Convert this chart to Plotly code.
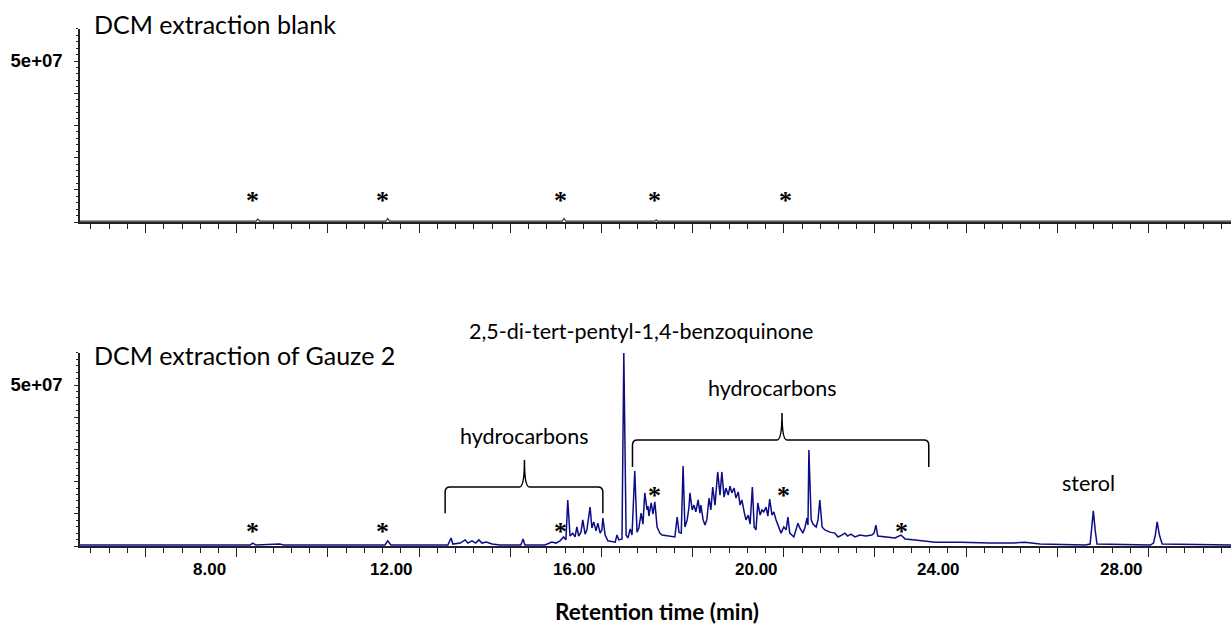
import plotly.graph_objects as go

# ---------------- data ----------------
# Bottom chromatogram: DCM extraction of Gauze 2 (retention time in min, intensity in 1e6 counts)
gauze_time = [5.16, 8.89, 8.95, 9.02, 9.54, 9.63, 11.85, 11.91, 11.98, 13.23, 13.30, 13.34, 13.50, 13.61,
              13.67, 13.76, 13.84, 13.91, 13.98, 14.07, 14.20, 14.37, 14.83, 14.88, 14.92, 15.36, 15.51,
              15.60, 15.69, 15.77, 15.82, 15.86, 15.91, 15.97, 16.02, 16.06, 16.10, 16.15, 16.19, 16.24,
              16.28, 16.35, 16.39, 16.43, 16.48, 16.52, 16.57, 16.61, 16.63, 16.68, 16.74, 16.90, 16.94,
              16.98, 17.05, 17.09, 17.14, 17.18, 17.23, 17.27, 17.33, 17.38, 17.42, 17.47, 17.51, 17.55,
              17.60, 17.62, 17.64, 17.69, 17.73, 17.77, 17.82, 17.88, 17.93, 18.06, 18.21, 18.26, 18.30,
              18.35, 18.39, 18.43, 18.48, 18.52, 18.54, 18.59, 18.63, 18.67, 18.70, 18.72, 18.76, 18.78,
              18.83, 18.87, 18.91, 18.96, 19.00, 19.04, 19.09, 19.15, 19.20, 19.24, 19.29, 19.33, 19.38,
              19.42, 19.46, 19.51, 19.55, 19.60, 19.64, 19.68, 19.73, 19.77, 19.82, 19.86, 19.91, 19.95,
              19.99, 20.03, 20.08, 20.12, 20.16, 20.21, 20.25, 20.29, 20.34, 20.38, 20.43, 20.49, 20.54,
              20.60, 20.65, 20.69, 20.73, 20.82, 20.86, 20.91, 20.95, 21.02, 21.06, 21.11, 21.13, 21.15,
              21.20, 21.24, 21.31, 21.35, 21.39, 21.44, 21.50, 21.61, 21.72, 21.79, 21.87, 21.94, 22.00,
              22.07, 22.16, 22.27, 22.40, 22.53, 22.58, 22.62, 22.66, 22.82, 23.04, 23.17, 23.26, 23.48,
              23.92, 24.47, 25.12, 25.63, 25.89, 26.22, 27.21, 27.32, 27.36, 27.39, 27.43, 27.47, 28.64,
              28.71, 28.75, 28.79, 28.84, 28.90, 30.41]
gauze_intensity_millions = [0.3, 0.3, 0.9, 0.3, 0.6, 0.3, 0.3, 1.6, 0.3, 0.3, 2.5, 0.6, 0.9, 1.9,
                            0.9, 1.6, 0.9, 1.9, 0.9, 1.2, 0.6, 0.3, 0.3, 2.2, 0.3, 0.3, 1.2,
                            0.9, 1.6, 2.8, 1.9, 14.3, 3.1, 4.0, 2.8, 5.9, 3.1, 4.3, 8.1, 3.7,
                            5.0, 12.1, 5.6, 7.5, 4.7, 7.1, 4.0, 5.0, 8.7, 3.4, 1.6, 1.2, 3.4,
                            1.9, 2.2, 59.9, 3.4, 2.5, 5.3, 3.4, 23.3, 4.3, 5.6, 10.2, 6.8, 16.5,
                            11.2, 12.4, 9.3, 13.4, 9.9, 13.7, 5.9, 4.0, 3.4, 3.1, 2.8, 9.0, 4.3,
                            4.0, 24.8, 5.9, 8.1, 12.1, 16.5, 11.2, 12.7, 10.6, 13.4, 14.3, 10.2, 12.7,
                            8.1, 6.5, 8.1, 14.9, 11.2, 18.3, 12.7, 23.0, 15.8, 23.0, 15.2, 18.0, 15.8,
                            18.6, 16.5, 18.0, 14.9, 16.8, 12.7, 14.3, 10.6, 8.1, 9.6, 6.8, 18.3, 5.9,
                            5.0, 13.4, 9.6, 11.2, 10.6, 12.1, 9.3, 14.6, 9.6, 10.6, 8.1, 5.6, 4.0,
                            5.9, 5.0, 9.0, 4.0, 2.8, 5.0, 7.1, 5.6, 4.0, 5.6, 8.7, 6.5, 29.8,
                            8.1, 6.8, 5.9, 8.1, 14.3, 5.9, 5.0, 4.3, 4.0, 2.8, 3.4, 4.0, 3.1,
                            3.7, 2.8, 3.4, 3.1, 3.4, 4.0, 6.5, 3.1, 2.8, 2.5, 3.4, 2.2, 1.9,
                            1.2, 1.2, 0.9, 0.9, 1.2, 0.6, 0.3, 0.6, 6.5, 10.9, 5.0, 0.6, 0.3,
                            0.9, 3.4, 7.5, 3.4, 0.6, 0.3]

# Top chromatogram: DCM extraction blank
blank_time = [5.16, 9.02, 9.06, 9.10, 11.87, 11.91, 11.95, 15.74, 15.78, 15.82, 17.77, 17.80, 17.83,
              20.66, 20.69, 20.72, 30.41]
blank_intensity_millions = [0.3, 0.3, 0.9, 0.3, 0.3, 1.1, 0.3, 0.3, 1.1, 0.3, 0.3, 0.6, 0.3,
                            0.3, 0.5, 0.3, 0.3]

# asterisk markers (retention time, height in 1e6 counts)
blank_star_time = [8.95, 11.80, 15.69, 17.77, 20.63]
blank_star_height = [7.8, 7.8, 7.8, 7.8, 7.8]
gauze_star_time = [8.95, 11.80, 15.69, 17.77, 20.60, 23.19]
gauze_star_height = [5.9, 5.9, 5.9, 16.8, 16.8, 5.6]

# peak labels (text, retention time, height in 1e6 counts)
label_text = ["hydrocarbons", "hydrocarbons", "sterol"]
label_time = [14.90, 20.34, 27.29]
label_height = [34.2, 49.1, 19.6]
top_label_text = "2,5-di-tert-pentyl-1,4-benzoquinone"
top_label_time = 17.47

# braces: (start, end, centre) in min; (foot, bar, tip) heights in 1e6 counts
brace_start = [13.17, 17.28]
brace_end = [16.63, 23.78]
brace_centre = [14.91, 20.56]
brace_foot = [10.2, 24.5]
brace_bar = [18.3, 32.9]
brace_tip = [26.7, 41.3]

# axes
x_range = [5.16, 30.41]
y_range_millions = [0, 60]
x_major_ticks = [6.6, 8.6, 10.6, 12.6, 14.6, 16.6, 18.6, 20.6, 22.6, 24.6, 26.6, 28.6]
tick_label_values = [8, 12, 16, 20, 24, 28]
tick_labels = ["8.00", "12.00", "16.00", "20.00", "24.00", "28.00"]
y_tick_values_millions = [0, 10, 20, 30, 40, 50]
y_tick_text = ["", "", "", "", "", "5e+07"]
panel_titles = ["DCM extraction blank", "DCM extraction of Gauze 2"]
x_title = "Retention time (min)"

M = 1e6
NAVY = "#0c0c86"
AXIS = "#222222"
H = 624.0


def paper_y(px):
    return 1 - px / H


fig = go.Figure()
fig.add_trace(go.Scatter(x=blank_time, y=[v * M for v in blank_intensity_millions],
                         mode="lines", line=dict(color="#333333", width=1.2),
                         xaxis="x", yaxis="y", hoverinfo="skip", showlegend=False))
fig.add_trace(go.Scatter(x=gauze_time, y=[v * M for v in gauze_intensity_millions],
                         mode="lines", line=dict(color=NAVY, width=1.5),
                         xaxis="x2", yaxis="y2", hoverinfo="skip", showlegend=False))

xaxis_common = dict(range=x_range, showgrid=False, zeroline=False, showline=True,
                    linecolor=AXIS, linewidth=1.5, ticks="outside", tickvals=x_major_ticks,
                    ticklen=9, tickwidth=1.2, tickcolor=AXIS, showticklabels=False,
                    minor=dict(tick0=6.6, dtick=0.4, ticks="outside", ticklen=5,
                               tickwidth=1, tickcolor=AXIS),
                    automargin=False, domain=[0, 1])
yaxis_common = dict(range=[v * M for v in y_range_millions], showgrid=False, zeroline=False,
                    showline=True, linecolor=AXIS, linewidth=1.5, ticks="outside",
                    tickvals=[v * M for v in y_tick_values_millions], ticktext=y_tick_text,
                    ticklen=4, tickwidth=1.2, tickcolor=AXIS,
                    tickfont=dict(family="Liberation Sans", size=18.5, color="black", weight="bold"),
                    ticklabelstandoff=8,
                    minor=dict(dtick=2 * M, ticks="outside", ticklen=2, tickwidth=1, tickcolor=AXIS),
                    automargin=False)

fig.update_layout(
    width=1231, height=624,
    margin=dict(l=80, r=0, t=0, b=0),
    paper_bgcolor="white", plot_bgcolor="white",
    template="none",
    xaxis=dict(**xaxis_common, anchor="y"),
    xaxis2=dict(**xaxis_common, anchor="y2"),
    yaxis=dict(**yaxis_common, domain=[paper_y(222), paper_y(28.8)], anchor="x"),
    yaxis2=dict(**yaxis_common, domain=[paper_y(546), paper_y(352.8)], anchor="x2"),
)

annotations = []
# panel titles
for title, py in zip(panel_titles, [24, 355]):
    annotations.append(dict(text=title, x=5.42, y=paper_y(py), xref="x", yref="paper",
                            xanchor="left", yanchor="middle", showarrow=False,
                            font=dict(family="Lato", size=25, color="black")))
star_font = dict(family="Liberation Serif", size=26, color="black", weight="bold")
# asterisks
for t, h in zip(blank_star_time, blank_star_height):
    annotations.append(dict(text="*", x=t, y=h * M, xref="x", yref="y", showarrow=False,
                            xanchor="center", yanchor="middle", yshift=-4, font=star_font))
for t, h in zip(gauze_star_time, gauze_star_height):
    annotations.append(dict(text="*", x=t, y=h * M, xref="x2", yref="y2", showarrow=False,
                            xanchor="center", yanchor="middle", yshift=-4, font=star_font))
# peak labels
for txt, t, h in zip(label_text, label_time, label_height):
    annotations.append(dict(text=txt, x=t, y=h * M, xref="x2", yref="y2", showarrow=False,
                            xanchor="center", yanchor="middle",
                            font=dict(family="Lato", size=21.5, color="black")))
annotations.append(dict(text=top_label_text, x=top_label_time, y=paper_y(331), xref="x2", yref="paper",
                        showarrow=False, xanchor="center", yanchor="middle",
                        font=dict(family="Lato", size=21.5, color="black")))
# x tick labels
for v, txt in zip(tick_label_values, tick_labels):
    annotations.append(dict(text=txt, x=v, y=paper_y(569), xref="x2", yref="paper", showarrow=False,
                            xanchor="center", yanchor="middle",
                            font=dict(family="Liberation Sans", size=17, color="black", weight="bold")))
annotations.append(dict(text=x_title, x=17.82, y=paper_y(611), xref="x2", yref="paper", showarrow=False,
                        xanchor="center", yanchor="middle",
                        font=dict(family="Lato", size=22.5, color="black", weight="bold")))
fig.update_layout(annotations=annotations)

# braces drawn in data coordinates
shapes = []
dx_end, dx_tip, dy_end = 0.11, 0.11, 1.6
for xs, xe, xc, yf, yb, yt in zip(brace_start, brace_end, brace_centre, brace_foot, brace_bar, brace_tip):
    yf, yb, yt = yf * M, yb * M, yt * M
    path = (f"M {xs},{yf:.0f} L {xs},{yb - dy_end * M:.0f} Q {xs},{yb:.0f} {xs + dx_end},{yb:.0f} "
            f"L {xc - dx_tip},{yb:.0f} Q {xc},{yb:.0f} {xc},{yt:.0f} "
            f"Q {xc},{yb:.0f} {xc + dx_tip},{yb:.0f} "
            f"L {xe - dx_end},{yb:.0f} Q {xe},{yb:.0f} {xe},{yb - dy_end * M:.0f} L {xe},{yf:.0f}")
    shapes.append(dict(type="path", path=path, xref="x2", yref="y2",
                       line=dict(color="black", width=1.5)))
fig.update_layout(shapes=shapes)

fig.write_html("out.html", config={"displayModeBar": False},
               post_script="document.body.style.margin='0px';")
